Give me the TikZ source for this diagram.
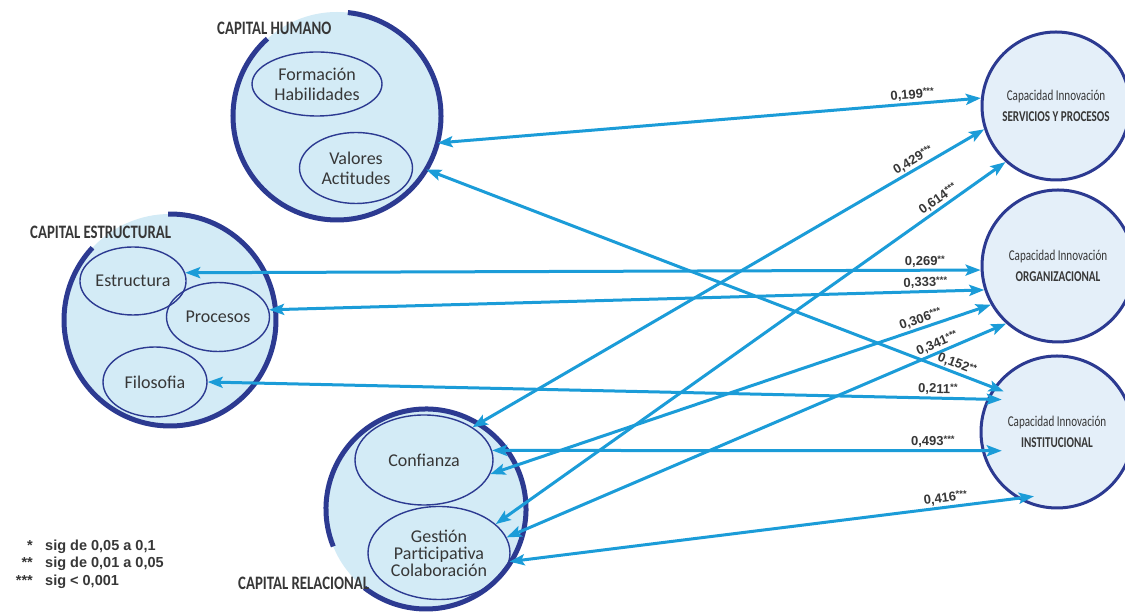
\documentclass[tikz,border=0pt]{standalone}
\usepackage{fontspec}
\setmainfont{Carlito}
\newfontfamily\condfont[FakeStretch=0.78]{Carlito}
\newfontfamily\narrowfont[FakeStretch=0.74]{Carlito}
\newfontfamily\numfont{Liberation Sans}
\usetikzlibrary{arrows.meta,shapes.geometric}
\definecolor{capfill}{RGB}{211,235,246}
\definecolor{innofill}{RGB}{228,239,249}
\definecolor{rimblue}{RGB}{44,58,145}
\definecolor{pathblue}{RGB}{27,156,216}
\definecolor{inktext}{RGB}{55,55,55}
% significance stars set small and raised after a coefficient
\newcommand{\sigmark}[1]{\raisebox{3pt}{\fontsize{9.5}{9.5}\selectfont #1}}
% two-line caption of an innovation capacity
\newcommand{\capline}[1]{{\fontsize{15}{21}\selectfont Capacidad Innovación}\\{\bfseries\fontsize{15}{21}\selectfont #1}}

\begin{document}
\begin{tikzpicture}[x=1pt,y=1pt,
  capital/.style={circle, fill=capfill, inner sep=0pt},
  rim/.style={draw=rimblue, line width=5pt},
  facet/.style={ellipse, draw=rimblue, line width=1.4pt, inner sep=0pt, align=center,
    text=inktext, font=\fontsize{18}{20}\selectfont},
  capacity/.style={circle, draw=rimblue, line width=3pt, fill=innofill, inner sep=0pt,
    align=center, text=inktext, font=\narrowfont\fontsize{15}{21}\selectfont},
  capname/.style={anchor=west, inner sep=0pt, text=inktext, font=\condfont\bfseries\fontsize{19}{19}\selectfont},
  corr/.style={draw=pathblue, line width=3pt,
    arrows={Stealth[length=15pt,width=11pt,inset=3pt]-Stealth[length=15pt,width=11pt,inset=3pt]}},
  coef/.style={sloped, above, inner sep=1.5pt, text=inktext, font=\numfont\bfseries\fontsize{13}{13}\selectfont},
  keytext/.style={inner sep=0pt, text=inktext, font=\numfont\bfseries\fontsize{14.5}{15}\selectfont}
]
\fill[white] (0,0) rectangle (1125,612);
\useasboundingbox (0,0) rectangle (1125,612);

% the three capital groups
\node[capital, minimum size=208pt] (ch) at (337,496) {};
\node[capital, minimum size=212pt] (ce) at (170,292) {};
\node[capital, minimum size=200pt] (cr) at (426,103) {};

\draw[rim] ([shift={(84:104pt)}]ch.center) arc[start angle=84, end angle=-228, radius=104pt];
\draw[rim] ([shift={(91:106pt)}]ce.center) arc[start angle=91, end angle=-223, radius=106pt];
\draw[rim] ([shift={(202:100pt)}]cr.center) arc[start angle=202, end angle=-128, radius=100pt];

\node[capname] (chname) at (217,584) {CAPITAL HUMANO};
\node[capname] (cename) at (30,380) {CAPITAL ESTRUCTURAL};
\node[capname] (crname) at (238,29) {CAPITAL RELACIONAL};

% components of each capital
\node[facet, minimum width=130pt, minimum height=64pt] (form) at (317,528) {Formación\\Habilidades};
\node[facet, minimum width=113pt, minimum height=71pt] (valo) at (356,444) {Valores\\Actitudes};
\node[facet, minimum width=103pt, minimum height=68pt] (estr) at (133,331) {Estructura};
\node[facet, minimum width=103pt, minimum height=69pt] (proc) at (218,295) {Procesos};
\node[facet, minimum width=104pt, minimum height=70pt] (filo) at (155,230) {Filosofia};
\node[facet, minimum width=138pt, minimum height=90pt] (conf) at (424,152) {Confianza};
\node[facet, minimum width=142pt, minimum height=93pt, font=\fontsize{18}{17}\selectfont] (gest) at (439,59) {Gestión\\Participativa\\Colaboración};

% innovation capacities
\node[capacity, minimum size=148pt] (serv) at (1056,506) {\capline{SERVICIOS Y PROCESOS}};
\node[capacity, minimum size=152pt] (org) at (1058,346) {\capline{ORGANIZACIONAL}};
\node[capacity, minimum size=152pt] (inst) at (1057,180) {\capline{INSTITUCIONAL}};

% relations with their coefficients
\draw[corr] (ch.-15) -- node[coef, pos=.875] {0,199\sigmark{***}} (serv.174);
\draw[corr] (conf.34) -- node[coef, pos=.87] {0,429\sigmark{***}} (serv.198);
\draw[corr] (gest.27) -- node[coef, pos=.878] {0,614\sigmark{***}} (serv.228);
\draw[corr] (estr.9) -- node[coef, pos=.93] {0,269\sigmark{**}} (org.183);
\draw[corr] (proc.8) -- node[coef, pos=.918] {0,333\sigmark{***}} (org.198);
\draw[corr] (conf.-12) -- node[coef, pos=.865] {0,306\sigmark{***}} (org.210);
\draw[corr] (gest.13) -- node[coef, pos=.869] {0,341\sigmark{***}} (org.228);
\draw[corr, shorten >=-11pt] (ch.-31) -- node[coef, pos=.93] {0,152\sigmark{**}} (inst.145);
\draw[corr, shorten >=-15pt] (filo.0) -- node[coef, pos=.937] {0,211\sigmark{**}} (inst.155);
\draw[corr, shorten >=-20pt] (conf.8) -- node[coef, pos=.9] {0,493\sigmark{***}} (inst.194);
\draw[corr, shorten >=-17pt] (gest.-7) -- node[coef, pos=.861] {0,416\sigmark{***}} (inst.239);

% significance key
\node[keytext, anchor=base east] (k1s) at (33,61) {*};
\node[keytext, anchor=base west] (k1) at (45,61) {sig de 0,05 a 0,1};
\node[keytext, anchor=base east] (k2s) at (33,44) {**};
\node[keytext, anchor=base west] (k2) at (45,44) {sig de 0,01 a 0,05};
\node[keytext, anchor=base east] (k3s) at (33,26) {***};
\node[keytext, anchor=base west] (k3) at (45,26) {sig < 0,001};
\end{tikzpicture}
\end{document}
